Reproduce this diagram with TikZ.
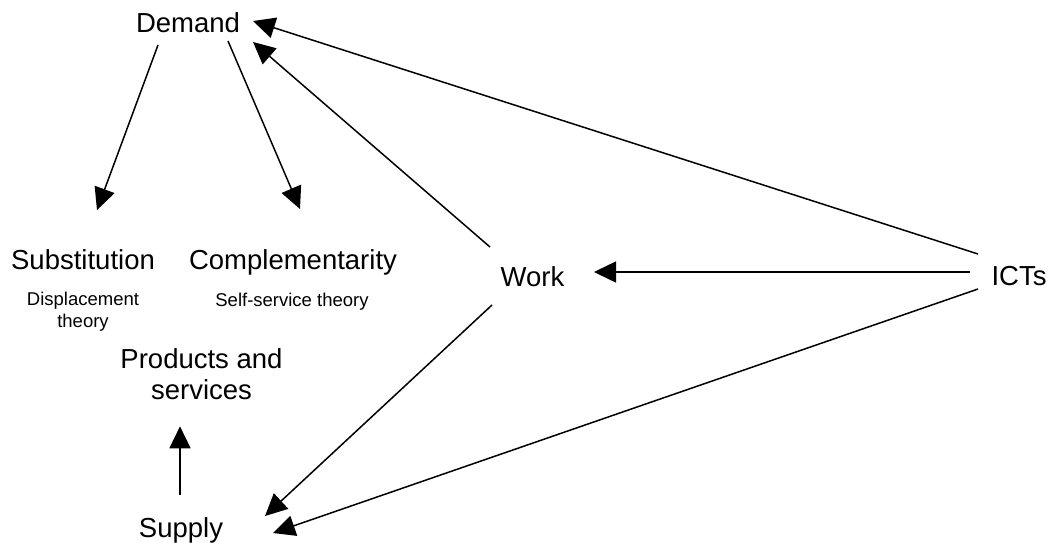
\documentclass[tikz,border=0pt]{standalone}
\usepackage{fontspec}
\setmainfont{Liberation Sans}
\usetikzlibrary{arrows.meta,calc}
\tikzset{
  big/.style={inner sep=0pt, font=\fontsize{27.5}{31}\selectfont, align=center},
  small/.style={inner sep=0pt, font=\fontsize{18.5}{22}\selectfont, align=center},
  arr/.style={line width=1.5pt, -{Triangle[length=22pt,width=21pt]}}
}
\begin{document}
\begin{tikzpicture}[x=1pt,y=-1pt]
\useasboundingbox (0,0) rectangle (1050,542);
\node[big, anchor=base] (dem) at (188,32) {Demand};
\node[big, anchor=base] (sub) at (83,269) {Substitution};
\node[big, anchor=base] (comp) at (293,269) {Complementarity};
\node[small] (disp) at (83,312) {Displacement\\theory};
\node[small, anchor=base] (self) at (292,306) {Self-service theory};
\node[big] (prod) at (201.5,374.5) {Products and\\services};
\node[big, anchor=base] (sup) at (181,537) {Supply};
\node[big, anchor=base] (work) at (532.5,286) {Work};
\node[big, anchor=base] (ict) at (1019,285) {ICTs};

\draw[arr] ($(dem.base)+(-30,13)$) -- ($(sub.base)+(14,-59)$);
\draw[arr] ($(dem.base)+(40,9)$) -- ($(comp.base)+(7,-60)$);
\draw[arr] ($(work.base)+(-42.5,-39)$) -- ($(dem.base)+(65,10)$);
\draw[arr] ($(ict.base)+(-41,-31)$) -- ($(dem.base)+(65,-11)$);
\draw[arr] ($(ict.base)+(-49,-13)$) -- ($(work.base)+(61.5,-14)$);
\draw[arr] ($(ict.base)+(-41,4)$) -- ($(sup.base)+(92,-4)$);
\draw[arr] ($(work.base)+(-40.5,19)$) -- ($(sup.base)+(84,-21)$);
\draw[arr] ($(sup.base)+(-1,-42)$) -- ($(prod.south)+(-21.5,26)$);
\end{tikzpicture}
\end{document}
